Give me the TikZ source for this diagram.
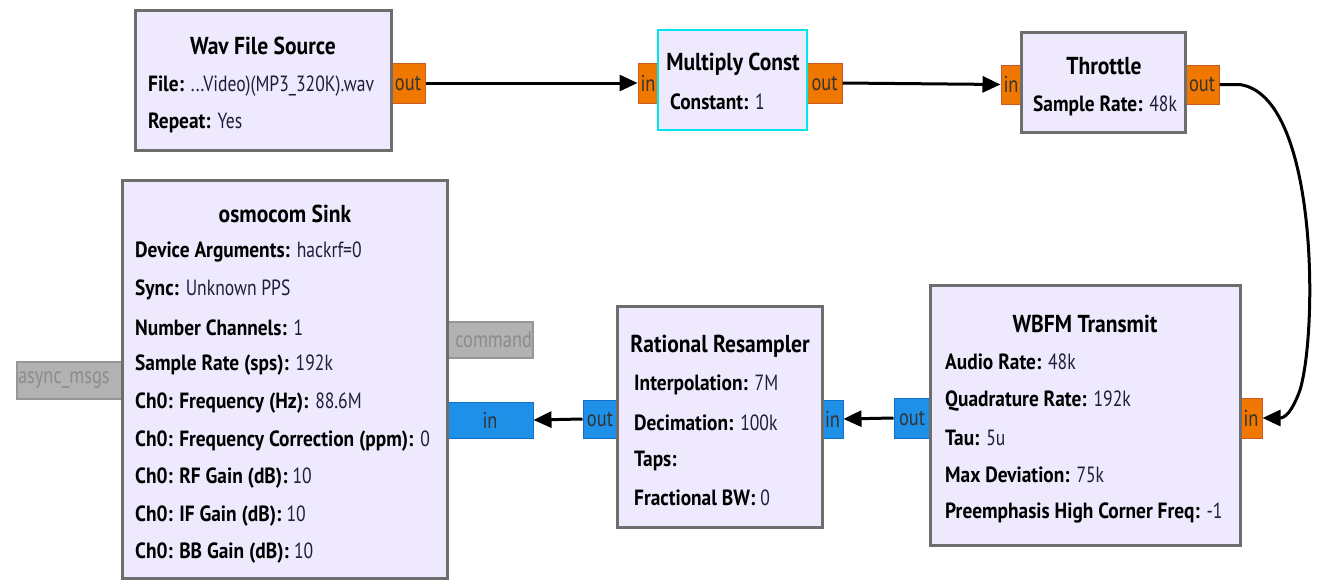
\documentclass[tikz,border=0pt]{standalone}
\usepackage{fontspec}
\setmainfont{PT Sans}[FakeStretch=0.88]
\newfontfamily\valfont{PT Sans}[FakeStretch=0.8]
\usetikzlibrary{arrows.meta}
\definecolor{boxfill}{RGB}{238,233,252}
\definecolor{boxdraw}{RGB}{110,110,110}
\definecolor{selcyan}{RGB}{0,230,240}
\definecolor{portorange}{RGB}{240,120,0}
\definecolor{portorangedraw}{RGB}{200,90,40}
\definecolor{portblue}{RGB}{30,144,232}
\definecolor{portbluedraw}{RGB}{20,110,200}
\definecolor{portgray}{RGB}{178,178,178}
\definecolor{portgraydraw}{RGB}{150,150,150}
\definecolor{valcol}{RGB}{30,30,60}
\tikzset{
  blockbox/.style={draw=boxdraw, fill=boxfill, line width=3pt, inner sep=0pt},
  selbox/.style={draw=selcyan, fill=boxfill, line width=2.5pt, inner sep=0pt},
  oport/.style={draw=portorangedraw, fill=portorange, line width=1pt, inner sep=0pt, font=\valfont\fontsize{23}{23}\selectfont, text=black!80},
  bport/.style={draw=portbluedraw, fill=portblue, line width=1pt, inner sep=0pt, font=\valfont\fontsize{23}{23}\selectfont, text=black!80},
  gport/.style={draw=portgraydraw, fill=portgray, line width=1.5pt, inner sep=0pt, font=\valfont\fontsize{23}{23}\selectfont, text=black!45},
  ttl/.style={font=\bfseries\fontsize{24.5}{24.5}\selectfont, inner sep=0pt, anchor=center},
  prm/.style={font=\fontsize{22}{22}\selectfont, inner sep=0pt, anchor=west},
  conn/.style={line width=3pt, -{Triangle[length=18pt,width=16pt]}},
}
\newcommand{\pl}[2]{\textbf{#1} \textcolor{valcol}{\valfont #2}}
\begin{document}
\begin{tikzpicture}[x=1pt,y=-1pt]
\useasboundingbox (0,0) rectangle (1320,581);
% ports
\node[oport, minimum width=34pt, minimum height=40pt] (wavout) at (408,83) {out};
\node[oport, minimum width=20pt, minimum height=40pt] (mulin) at (648,83) {in};
\node[oport, minimum width=35pt, minimum height=40pt] (mulout) at (824.5,83) {out};
\node[oport, minimum width=20pt, minimum height=39pt] (thrin) at (1011,84.5) {in};
\node[oport, minimum width=34pt, minimum height=39pt] (throut) at (1202,84.5) {out};
\node[oport, minimum width=22pt, minimum height=40pt] (wbin) at (1251,418) {in};
\node[bport, minimum width=36pt, minimum height=40pt] (wbout) at (912,418) {out};
\node[bport, minimum width=21pt, minimum height=38pt] (rsin) at (832.5,419) {in};
\node[bport, minimum width=34pt, minimum height=38pt] (rsout) at (600,419) {out};
\node[bport, minimum width=86pt, minimum height=36pt] (skin) at (490,420) {in};
\node[gport, minimum width=86pt, minimum height=36pt, text width=84pt, align=right] (cmd) at (490,340) {command};
\node[gport, minimum width=105pt, minimum height=37pt, text width=103pt, align=left] (async) at (69.5,380.5) {async\_msgs};
% blocks
\node[blockbox, minimum width=256pt, minimum height=140pt] (wav) at (263,80) {};
\node[selbox, minimum width=149pt, minimum height=100pt] (mul) at (732.5,80) {};
\node[blockbox, minimum width=164pt, minimum height=100pt] (thr) at (1103,82) {};
\node[blockbox, minimum width=310pt, minimum height=260pt] (wb) at (1085,415) {};
\node[blockbox, minimum width=205pt, minimum height=221pt] (rs) at (719.5,416.5) {};
\node[blockbox, minimum width=325pt, minimum height=398pt] (sk) at (284.5,379) {};
% texts
\node[ttl] (wavt) at (263,46) {Wav File Source};
\node[prm] (wav1) at (148,86) {\pl{File:}{...Video)(MP3\_320K).wav}};
\node[prm] (wav2) at (148,123) {\pl{Repeat:}{Yes}};
\node[ttl] (mult) at (733,64) {Multiply Const};
\node[prm] (mul1) at (670,102) {\pl{Constant:}{1}};
\node[ttl] (thrt) at (1104,66) {Throttle};
\node[prm] (thr1) at (1033,106) {\pl{Sample Rate:}{48k}};
\node[ttl] (wbt) at (1085,324) {WBFM Transmit};
\node[prm] (wb1) at (945,362) {\pl{Audio Rate:}{48k}};
\node[prm] (wb2) at (945,401) {\pl{Quadrature Rate:}{192k}};
\node[prm] (wb3) at (945,438) {\pl{Tau:}{5u}};
\node[prm] (wb4) at (945,475) {\pl{Max Deviation:}{75k}};
\node[prm] (wb5) at (945,513) {\pl{Preemphasis High Corner Freq:}{-1}};
\node[ttl] (rst) at (720,346) {Rational Resampler};
\node[prm] (rs1) at (634,385) {\pl{Interpolation:}{7M}};
\node[prm] (rs2) at (634,423) {\pl{Decimation:}{100k}};
\node[prm] (rs3) at (634,461) {\textbf{Taps:}};
\node[prm] (rs4) at (634,498) {\pl{Fractional BW:}{0}};
\node[ttl] (skt) at (285,214) {osmocom Sink};
\node[prm] (sk1) at (135,252) {\pl{Device Arguments:}{hackrf=0}};
\node[prm] (sk2) at (135,290) {\pl{Sync:}{Unknown PPS}};
\node[prm] (sk3) at (135,328) {\pl{Number Channels:}{1}};
\node[prm] (sk4) at (135,365) {\pl{Sample Rate (sps):}{192k}};
\node[prm] (sk5) at (135,403) {\pl{Ch0: Frequency (Hz):}{88.6M}};
\node[prm] (sk6) at (135,441) {\pl{Ch0: Frequency Correction (ppm):}{0}};
\node[prm] (sk7) at (135,478) {\pl{Ch0: RF Gain (dB):}{10}};
\node[prm] (sk8) at (135,516) {\pl{Ch0: IF Gain (dB):}{10}};
\node[prm] (sk9) at (135,553) {\pl{Ch0: BB Gain (dB):}{10}};
% connectors
\draw[conn] (wavout.east) -- (mulin.west);
\draw[conn] (mulout.east) -- (thrin.west);
\draw[conn] (throut.east) -- ++(20,0) .. controls (1318,95) and (1318,330) .. (1300,390) .. controls (1292,412) and (1285,418) .. (wbin.east);
\draw[conn] (wbout.west) -- (rsin.east);
\draw[conn] (rsout.west) -- (skin.east);
\end{tikzpicture}
\end{document}
